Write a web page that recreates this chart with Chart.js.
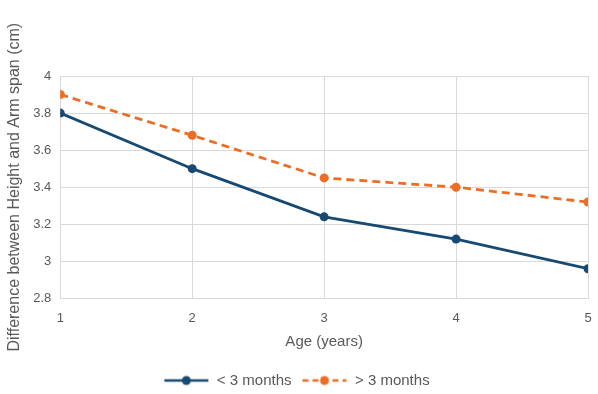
<!DOCTYPE html>
<html>
<head>
<meta charset="utf-8">
<script src="https://cdn.jsdelivr.net/npm/chart.js@4"></script>
<style>
  html, body { margin: 0; padding: 0; background: #fff; }
  #wrap { width: 598px; height: 394px; }
</style>
</head>
<body>
<div id="wrap"><canvas id="c" width="598" height="394"></canvas></div>
<script>
const ages = [1, 2, 3, 4, 5];
const under3 = [3.80, 3.50, 3.24, 3.12, 2.96];
const over3 = [3.90, 3.68, 3.45, 3.40, 3.32];
const seriesNames = ['< 3 months', '> 3 months'];
const yTitle = 'Difference between Height and Arm span (cm)';
const xTitle = 'Age (years)';

const BLUE = '#174a72';
const ORANGE = '#ee6d25';
const TEXT = '#595959';
const GRID = '#d9d9d9';
const FONT = 'Liberation Sans, Arial, sans-serif';

function legendIcon(color, dash) {
  const c = document.createElement('canvas');
  c.width = 46; c.height = 12;
  const ctx = c.getContext('2d');
  ctx.strokeStyle = color; ctx.lineWidth = 2.5;
  ctx.setLineDash(dash);
  ctx.beginPath(); ctx.moveTo(1, 6); ctx.lineTo(45, 6); ctx.stroke();
  ctx.setLineDash([]);
  ctx.fillStyle = color;
  ctx.beginPath(); ctx.arc(23, 6, 4.5, 0, Math.PI * 2); ctx.fill();
  return c;
}
const icons = [legendIcon(BLUE, []), legendIcon(ORANGE, [6, 4])];

new Chart(document.getElementById('c'), {
  type: 'line',
  data: {
    datasets: [
      {
        label: seriesNames[0],
        data: ages.map((a, i) => ({ x: a, y: under3[i] })),
        borderColor: BLUE, backgroundColor: BLUE,
        borderWidth: 2.8, pointRadius: 4.5, pointBackgroundColor: BLUE,
        pointBorderWidth: 0, tension: 0
      },
      {
        label: seriesNames[1],
        data: ages.map((a, i) => ({ x: a, y: over3[i] })),
        borderColor: ORANGE, backgroundColor: ORANGE,
        borderWidth: 2.8, borderDash: [8, 5], pointRadius: 4.5,
        pointBackgroundColor: ORANGE, pointBorderWidth: 0, tension: 0
      }
    ]
  },
  options: {
    responsive: false,
    animation: false,
    layout: { padding: { top: 76, right: 10, left: 5, bottom: -4 } },
    plugins: {
      tooltip: { enabled: false },
      legend: {
        position: 'bottom',
        labels: {
          usePointStyle: true,
          pointStyleWidth: 46,
          padding: 10,
          color: TEXT,
          font: { family: FONT, size: 15 },
          generateLabels: (chart) => chart.data.datasets.map((d, i) => ({
            text: d.label, pointStyle: icons[i], fillStyle: d.borderColor,
            strokeStyle: d.borderColor, lineWidth: 0, fontColor: TEXT,
            datasetIndex: i, hidden: false
          }))
        }
      }
    },
    scales: {
      x: {
        type: 'linear', min: 1, max: 5,
        afterFit: (s) => { s.paddingRight = 0; },
        ticks: { stepSize: 1, color: TEXT, font: { family: FONT, size: 13 }, padding: 12 },
        grid: { color: GRID, drawTicks: false },
        border: { color: GRID },
        title: { display: true, text: xTitle, color: TEXT, font: { family: FONT, size: 15 }, padding: { top: -5, bottom: 12 } }
      },
      y: {
        min: 2.8, max: 4,
        ticks: { stepSize: 0.2, color: TEXT, font: { family: FONT, size: 13 }, padding: 9,
          callback: (v) => String(Math.round(v * 10) / 10) },
        grid: { color: GRID, drawTicks: false },
        border: { color: GRID },
        title: { display: true, text: yTitle, color: TEXT, font: { family: FONT, size: 16 }, padding: { top: 0, bottom: 0 } }
      }
    }
  }
});
</script>
</body>
</html>
